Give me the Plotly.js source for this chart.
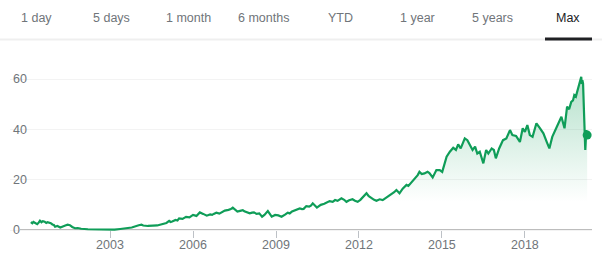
<!DOCTYPE html>
<html>
<head>
<meta charset="utf-8">
<script src="https://cdn.plot.ly/plotly-3.0.1.min.js"></script>
<style>html,body{margin:0;padding:0;background:#fff;}#chart{width:602px;height:262px;}</style>
</head>
<body>
<div id="chart"></div>
<script>
// ---- data ----
const dates = [
"2000-02-20","2000-03-10","2000-03-25","2000-04-20","2000-05-15","2000-06-05","2000-06-20","2000-07-10","2000-07-28","2000-08-20","2000-09-10","2000-09-28","2000-10-20","2000-11-10","2000-12-01","2000-12-20",
"2001-01-05","2001-02-05","2001-03-15","2001-04-15","2001-05-20","2001-06-20","2001-07-20","2001-08-20","2001-09-25","2001-11-01","2001-12-15",
"2002-03-15","2002-06-15","2002-09-15","2002-12-01",
"2003-03-01","2003-05-15","2003-08-01","2003-10-15",
"2004-01-15","2004-02-20","2004-03-15","2004-05-15","2004-07-20","2004-09-15","2004-11-15",
"2005-01-15","2005-02-20","2005-03-10","2005-04-01","2005-05-15","2005-06-10","2005-07-01","2005-08-15","2005-09-05","2005-10-01","2005-11-15","2005-12-10",
"2006-01-01","2006-02-15","2006-03-10","2006-04-01","2006-05-15","2006-06-10","2006-07-01","2006-08-15","2006-09-10","2006-10-01","2006-11-05","2006-12-15",
"2007-01-20","2007-02-25","2007-04-15","2007-05-15","2007-06-10","2007-07-01","2007-08-10","2007-09-15","2007-10-20","2007-11-10","2007-12-01",
"2008-01-20","2008-02-20","2008-03-15","2008-04-20","2008-05-25","2008-07-01","2008-08-01","2008-09-15","2008-10-10","2008-11-05","2008-12-20",
"2009-02-01","2009-03-15","2009-04-10","2009-05-05","2009-06-05","2009-07-01","2009-08-01","2009-09-01","2009-10-01","2009-11-10","2009-12-10",
"2010-01-01","2010-02-05","2010-03-15","2010-04-10","2010-05-01","2010-06-25","2010-08-15","2010-10-01","2010-11-10","2010-12-10",
"2011-01-20","2011-02-20","2011-03-25","2011-05-15","2011-06-20","2011-07-20","2011-08-25","2011-10-08","2011-11-10","2011-12-15",
"2012-01-20","2012-02-15","2012-03-15","2012-04-10","2012-05-10","2012-06-15","2012-07-20","2012-08-20","2012-10-01","2012-11-10","2012-12-15",
"2013-01-15","2013-02-15","2013-03-15","2013-04-10","2013-05-10","2013-06-20","2013-08-01","2013-09-20","2013-10-15","2013-11-15","2013-12-10",
"2014-01-20","2014-02-15","2014-03-10","2014-04-10","2014-05-15","2014-06-25","2014-07-20","2014-08-15","2014-09-01","2014-10-20","2014-12-03",
"2015-01-05","2015-02-05","2015-03-04","2015-04-16","2015-05-30","2015-07-05","2015-08-04","2015-09-06","2015-10-30","2015-12-03",
"2016-01-04","2016-02-10","2016-03-14","2016-04-12","2016-05-15","2016-07-01","2016-08-07","2016-09-05","2016-10-19","2016-11-17","2016-12-13",
"2017-01-26","2017-03-18","2017-05-01","2017-06-18","2017-07-20","2017-09-06","2017-10-27","2017-12-03",
"2018-01-01","2018-02-02","2018-03-07","2018-04-12","2018-06-02","2018-07-20","2018-09-02","2018-10-16","2018-11-20","2018-12-28",
"2019-02-05","2019-03-05","2019-04-01","2019-04-28","2019-06-08","2019-07-12","2019-08-08","2019-09-05","2019-09-28","2019-10-15","2019-11-05","2019-11-25","2019-12-20",
"2020-01-15","2020-01-22","2020-01-30","2020-02-08","2020-02-20","2020-03-08","2020-03-22","2020-04-02"
];
const prices = [
3.1,2.7,3.2,2.6,2.3,3.0,3.7,3.1,3.5,3.3,2.8,3.1,2.9,2.7,2.2,2.0,
1.3,1.6,1.0,1.5,1.8,2.1,1.9,1.2,0.7,0.8,0.5,
0.3,0.25,0.15,0.1,
0.15,0.4,0.7,1.0,
1.9,2.1,1.8,1.6,1.7,1.8,2.3,
2.8,3.6,3.2,3.4,4.0,3.8,4.6,4.4,4.9,5.2,5.0,5.4,
6.0,5.6,6.3,7.0,6.4,6.0,5.7,6.2,6.0,6.4,6.9,6.5,
7.1,7.7,8.0,8.3,8.9,8.2,7.3,7.6,7.9,7.4,7.2,
6.6,6.9,7.0,6.4,6.6,5.3,6.0,7.5,6.2,5.3,6.0,
5.8,5.3,5.7,6.2,6.9,6.6,7.4,7.8,8.2,8.6,8.3,
8.4,9.5,9.3,9.8,10.6,8.9,10.0,10.4,11.0,11.5,
11.2,11.9,11.6,12.6,12.0,11.2,11.8,12.2,11.6,11.2,
12.0,12.8,13.6,14.6,13.4,12.6,12.0,11.6,12.2,11.9,12.6,
13.5,13.9,14.4,15.0,15.9,14.6,16.4,17.9,17.5,18.6,19.2,
21.0,21.8,23.1,22.2,22.5,23.1,22.6,21.8,20.9,23.8,23.8,
23.1,26.0,29.1,31.1,32.7,31.8,34.0,32.4,36.4,35.7,
33.7,31.8,33.1,30.4,31.1,26.5,31.8,30.4,32.4,31.8,28.5,
32.4,35.7,36.4,39.7,37.7,37.4,35.0,40.4,
39.0,41.7,37.7,37.0,42.4,40.4,38.4,35.0,32.4,37.0,
39.5,41.0,43.0,45.0,40.4,49.0,48.0,50.9,51.5,53.6,53.0,55.6,58.2,
60.9,58.0,59.5,58.2,43.7,31.8,39.7,37.7
];
const yTicks = [0, 20, 40, 60];
const xTickVals = ["2003-01-01","2006-01-01","2009-01-01","2012-01-01","2015-01-01","2018-01-01"];
const xTickText = ["2003","2006","2009","2012","2015","2018"];
const tabLabels = ["1 day","5 days","1 month","6 months","YTD","1 year","5 years","Max"];
const activeTab = "Max";

// ---- layout helpers (pixel -> paper) ----
const ML = 10, MR = 10, MT = 70, MB = 24, W = 602, H = 262;
const PW = W - ML - MR, PH = H - MT - MB;
const px = x => (x - ML) / PW;
const py = y => (H - MB - y) / PH;
const PXPERUNIT = 151 / 60;          // y pixels per price unit
const Y0PX = 230;                     // pixel row of price 0

const green = "#0f9d58";
const tabX = [36, 111, 188, 263, 340, 417, 492, 568];
const FONT = "Liberation Sans, Arial, sans-serif";

const annotations = tabLabels.map((t, i) => ({
  text: t, xref: "paper", yref: "paper", x: px(tabX[i]), y: py(18),
  xanchor: "center", yanchor: "middle", showarrow: false,
  font: {family: FONT, size: 12.5, color: t === activeTab ? "#202124" : "#70757a"}
}));

const lastIdx = dates.length - 1;

const traces = [
  {
    x: dates, y: prices, type: "scatter", mode: "lines",
    line: {color: green, width: 2.2},
    fill: "tozeroy",
    fillgradient: {type: "vertical", start: 0, stop: 62,
      colorscale: [[0, "rgba(15,157,88,0)"], [0.18, "rgba(15,157,88,0)"], [1, "rgba(15,157,88,0.32)"]]},
    hoverinfo: "skip"
  },
  {
    x: [dates[lastIdx]], y: [prices[lastIdx]], type: "scatter", mode: "markers",
    marker: {color: green, size: 9}, hoverinfo: "skip"
  }
];

const layout = {
  width: W, height: H,
  margin: {l: ML, r: MR, t: MT, b: MB, pad: 0},
  paper_bgcolor: "#fff", plot_bgcolor: "#fff",
  showlegend: false,
  xaxis: {
    type: "date", range: ["1999-05-21", "2020-06-05"],
    tickvals: xTickVals, ticktext: xTickText,
    ticks: "inside", ticklen: 7, tickcolor: "#bdc1c6", tickwidth: 1,
    ticklabelstandoff: -3,
    showgrid: false, zeroline: false, showline: false,
    tickfont: {family: FONT, size: 12.5, color: "#70757a"},
    fixedrange: true
  },
  yaxis: {
    range: [-(H - MB - Y0PX) / PXPERUNIT, (Y0PX - MT) / PXPERUNIT],
    tickvals: yTicks, ticktext: yTicks.map(String),
    ticklabelposition: "inside",
    showgrid: true, gridcolor: "#f3f3f3", gridwidth: 1,
    zeroline: false, showline: false, ticks: "",
    tickfont: {family: FONT, size: 12.5, color: "#70757a"},
    fixedrange: true
  },
  shapes: [
    {type: "line", xref: "paper", yref: "y", x0: px(20), x1: px(592), y0: 0, y1: 0,
     line: {color: "#bdbdbd", width: 2}, layer: "below"},
    {type: "line", xref: "paper", yref: "paper", x0: px(0), x1: px(602), y0: py(39.5), y1: py(39.5),
     line: {color: "#efefef", width: 2}},
    {type: "line", xref: "paper", yref: "paper", x0: px(545), x1: px(592), y0: py(39), y1: py(39),
     line: {color: "#202124", width: 3}}
  ],
  annotations: annotations
};

Plotly.newPlot("chart", traces, layout, {displayModeBar: false, staticPlot: true});
</script>
</body>
</html>
